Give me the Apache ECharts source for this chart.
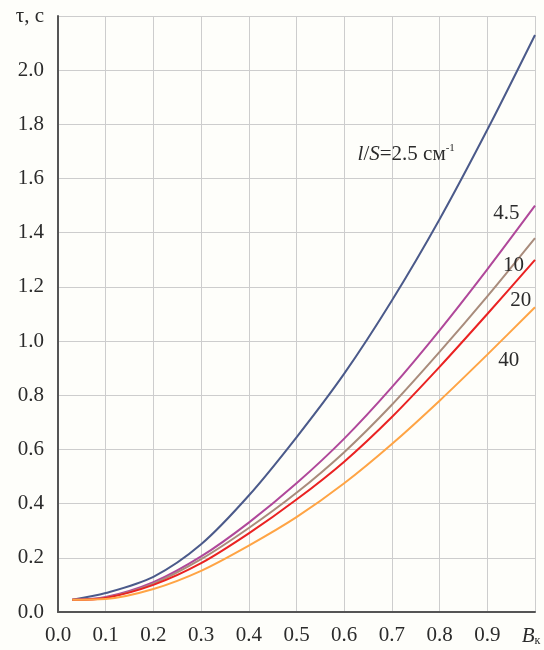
<!DOCTYPE html>
<html>
<head>
<meta charset="utf-8">
<script src="https://cdn.jsdelivr.net/npm/echarts@6/dist/echarts.min.js"></script>
<style>
  html, body { margin: 0; padding: 0; background: #fefefa; }
  #chart { width: 544px; height: 650px; }
</style>
</head>
<body>
<div id="chart"></div>
<script>
// B_k values (x)
var bk = [0.03, 0.1, 0.2, 0.3, 0.4, 0.5, 0.6, 0.7, 0.8, 0.9, 1.0];
// tau, s for l/S = 2.5, 4.5, 10, 20, 40 cm^-1
var tau25 = [0.045, 0.07, 0.13, 0.25, 0.43, 0.645, 0.88, 1.15, 1.45, 1.78, 2.13];
var tau45 = [0.045, 0.055, 0.11, 0.205, 0.33, 0.475, 0.64, 0.83, 1.04, 1.265, 1.50];
var tau10 = [0.045, 0.053, 0.105, 0.195, 0.31, 0.44, 0.59, 0.765, 0.96, 1.165, 1.38];
var tau20 = [0.045, 0.052, 0.10, 0.18, 0.29, 0.415, 0.555, 0.72, 0.905, 1.10, 1.30];
var tau40 = [0.045, 0.048, 0.085, 0.152, 0.245, 0.35, 0.475, 0.62, 0.78, 0.95, 1.125];
// curve labels: text and where they sit (data coords)
var curveNames = ['{i|l}/{i|S}=2.5 см{sup|-1}', '4.5', '10', '20', '40'];
var labelPos = [[0.73, 1.69], [0.94, 1.47], [0.955, 1.28], [0.97, 1.15], [0.945, 0.93]];

var colors = ['#4b5a8a', '#b0489a', '#a98c7c', '#ea2222', '#ffa444'];
var allTau = [tau25, tau45, tau10, tau20, tau40];

var chart = echarts.init(document.getElementById('chart'));
var font = 'Liberation Serif';
var textColor = '#2b2b2b';

function pairs(ys) {
    return bk.map(function (x, i) { return [x, ys[i]]; });
}

var series = allTau.map(function (ys, k) {
    return {
        type: 'line',
        data: pairs(ys),
        smooth: 0.3,
        showSymbol: false,
        lineStyle: { color: colors[k], width: 2 },
        itemStyle: { color: colors[k] },
        markPoint: {
            symbol: 'circle',
            symbolSize: 0,
            data: [{ coord: labelPos[k] }],
            label: {
                show: true,
                position: 'inside',
                formatter: curveNames[k],
                color: textColor,
                fontFamily: font,
                fontSize: 21,
                rich: {
                    i: { fontStyle: 'italic', fontFamily: font, fontSize: 21, color: textColor },
                    sup: { fontSize: 11, fontFamily: font, color: textColor, padding: [0, 0, 12, 0] }
                }
            }
        }
    };
});

chart.setOption({
    backgroundColor: '#fefefa',
    animation: false,
    grid: { left: 58, right: 9, top: 16, bottom: 38 },
    xAxis: {
        type: 'value',
        min: 0,
        max: 1,
        interval: 0.1,
        axisLine: { show: true, lineStyle: { color: '#555', width: 2 } },
        axisTick: { show: false },
        splitLine: { show: true, lineStyle: { color: '#cdcdcd', width: 1 } },
        axisLabel: {
            color: textColor,
            fontFamily: font,
            fontSize: 21,
            margin: 13,
            formatter: function (v) {
                if (v > 0.99) return '{b|B}{k|к}';
                return v.toFixed(1);
            },
            rich: {
                b: { fontStyle: 'italic', fontFamily: font, fontSize: 21, color: textColor },
                k: { fontFamily: font, fontSize: 12, color: textColor, padding: [10, 8, 0, 0] }
            }
        }
    },
    yAxis: {
        type: 'value',
        min: 0,
        max: 2.2,
        interval: 0.2,
        axisLine: { show: true, lineStyle: { color: '#555', width: 2 } },
        axisTick: { show: false },
        splitLine: { show: true, lineStyle: { color: '#cdcdcd', width: 1 } },
        axisLabel: {
            color: textColor,
            fontFamily: font,
            fontSize: 21,
            margin: 14,
            formatter: function (v) {
                if (v > 2.19) return 'τ, с';
                return v.toFixed(1);
            }
        }
    },
    series: series
});
</script>
</body>
</html>
